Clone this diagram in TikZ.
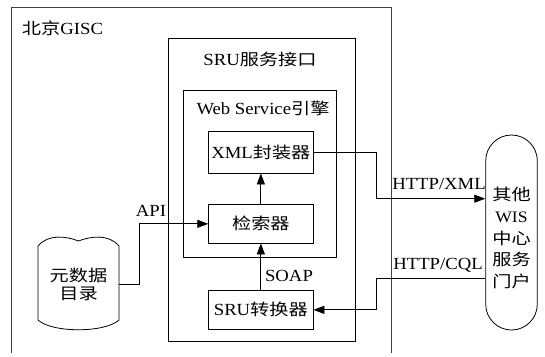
\documentclass[tikz,border=0pt]{standalone}
\usepackage{fontspec}
\setmainfont{Liberation Serif}[FakeStretch=1.1]
\newfontfamily\cjk{Noto Sans CJK SC}[FakeStretch=1.2]
\newcommand\zh[1]{{\cjk\fontsize{16}{19}\selectfont #1}}
\usetikzlibrary{arrows.meta}
\begin{document}
\begin{tikzpicture}[x=1pt,y=-1pt,
  every node/.style={font=\fontsize{17}{20}\selectfont, inner sep=0pt},
  frame/.style={draw, line width=0.8pt},
  outer/.style={draw=black!75, line width=0.9pt},
  box/.style={draw, line width=0.8pt, minimum width=104.3pt, minimum height=38.3pt},
  arr/.style={line width=0.8pt, -{Triangle[length=11pt,width=8pt]}}]
\useasboundingbox (0,0) rectangle (545,356);

% outer GISC frame (bottom edge outside the picture)
\draw[outer] (11,353) -- (11,7) -- (391.5,7) -- (391.5,353);
\node (gisc) at (62.5,28) {\zh{北京}GISC};

% SRU service interface
\node[frame, minimum width=187pt, minimum height=303.5pt] (sru) at (261.5,189.75) {};
\node (srut) at (260,59) {SRU\zh{服务接口}};

% Web Service engine
\node[frame, minimum width=152.3pt, minimum height=167pt] (ws) at (259.85,173.5) {};
\node (wst) at (263,108) {Web Service\zh{引擎}};

\node[box, minimum height=42pt] (xml) at (260.85,152) {XML\zh{封装器}};
\node[box] (ret) at (260.85,223.85) {\zh{检索器}};
\node[box] (conv) at (260.85,309.85) {SRU\zh{转换器}};

% metadata catalogue (database shape)
\draw[frame] (38,246) .. controls (48,234) and (66,236) .. (78.5,241)
  .. controls (91,236) and (109,234) .. (119,246) -- (119,320)
  .. controls (105,333) and (52,333) .. (38,320) -- cycle;
\node[minimum width=81pt, minimum height=92pt, align=center,
  font=\cjk\fontsize{16}{18}\selectfont] (db) at (78.5,284) {元数据\\目录};

% other WIS centre portal
\node[frame, rounded corners=25.8pt, minimum width=51.6pt, minimum height=195pt] (portal) at (511.5,232.5) {};
\node[align=center, font=\fontsize{16}{21.6}\selectfont] (portalt) at (511.5,238)
  {\zh{其他}\\WIS\\\zh{中心}\\\zh{服务}\\\zh{门户}};

% connectors
\draw[arr] (db.east) -- ++(19.8,0) |- (ret.west);
\node (api) at (151,211) {API};
\draw[arr] (ret.north) -- (xml.south);
\draw[arr] (conv.north) -- (ret.south);
\node (soap) at (289,276) {SOAP};
\draw[arr] (xml.east) -- ++(63.3,0) |- ([yshift=33.8pt]portal.west);
\node (hxml) at (439,184) {HTTP/XML};
\draw[arr] ([yshift=-46.2pt]portal.west) -- ++(-109.4,0) |- (conv.east);
\node (hcql) at (438,265) {HTTP/CQL};
\end{tikzpicture}
\end{document}
